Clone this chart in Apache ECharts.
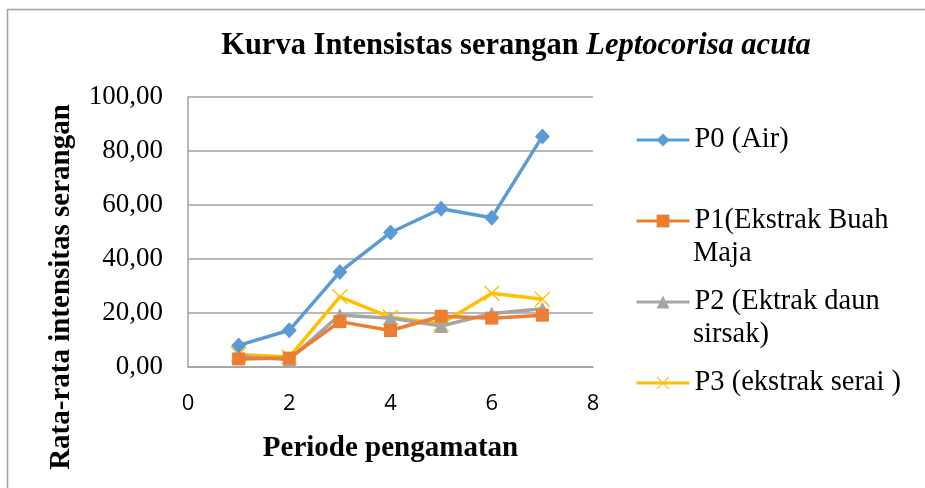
<!DOCTYPE html>
<html>
<head>
<meta charset="utf-8">
<script src="https://cdn.jsdelivr.net/npm/echarts@6/dist/echarts.min.js"></script>
<style>
  html, body { margin: 0; padding: 0; background: #fff; }
  #chart { width: 925px; height: 488px; }
</style>
</head>
<body>
<div id="chart"></div>
<script>
  // data
  var periods = [1, 2, 3, 4, 5, 6, 7];
  var seriesNames = ['P0 (Air)', 'P1(Ekstrak Buah Maja', 'P2 (Ektrak daun sirsak)', 'P3 (ekstrak serai )'];
  var legendLine1 = ['P0 (Air)', 'P1(Ekstrak Buah', 'P2 (Ektrak daun', 'P3 (ekstrak serai )'];
  var legendLine2 = ['', 'Maja', 'sirsak)', ''];
  var p0 = [8.0, 13.6, 35.2, 49.8, 58.6, 55.3, 85.4];
  var p1 = [3.0, 3.3, 16.8, 13.5, 18.8, 18.1, 19.2];
  var p2 = [3.9, 2.8, 19.3, 18.1, 15.2, 19.8, 21.6];
  var p3 = [4.6, 3.7, 26.0, 18.4, 16.0, 27.3, 25.1];
  var yTicks = [0, 20, 40, 60, 80, 100];

  var colors = ['#5B9BD5', '#ED7D31', '#A5A5A5', '#FFC000'];
  var symbols = ['diamond', 'rect', 'triangle',
    'path://M0,1.2L1.2,0L10,8.8L18.8,0L20,1.2L11.2,10L20,18.8L18.8,20L10,11.2L1.2,20L0,18.8L8.8,10Z'];
  var symbolSizes = [[15, 16], 13, 14, 16];
  var values = [p0, p1, p2, p3];

  var serif = '"Liberation Serif", "DejaVu Serif", serif';
  var chart = echarts.init(document.getElementById('chart'));

  var legendY = [140, 221, 302, 383];

  var series = values.map(function (vals, i) {
    return {
      name: seriesNames[i],
      type: 'line',
      data: periods.map(function (p, j) { return [p, vals[j]]; }),
      symbol: symbols[i],
      symbolSize: symbolSizes[i],
      showAllSymbol: true,
      color: colors[i],
      lineStyle: { width: 3.5, color: colors[i] },
      itemStyle: { color: colors[i] },
      z: 10 - i
    };
  });

  var legends = seriesNames.map(function (n, i) {
    return {
      data: [n],
      orient: 'vertical',
      left: 635,
      top: legendY[i] - 15,
      itemWidth: 53,
      itemHeight: 16,
      itemGap: 0,
      padding: 0,
      selectedMode: false,
      lineStyle: { width: 3 },
      formatter: function () { return legendLine1[i]; },
      textStyle: { fontFamily: serif, fontSize: 28.5, color: '#000', lineHeight: 30 }
    };
  });

  var graphics = [{
    type: 'rect',
    shape: { x: 7.5, y: 9.5, width: 2000, height: 2000 },
    style: { fill: 'none', stroke: '#A0A0A0', lineWidth: 1.5 },
    silent: true
  }, {
    type: 'text',
    x: 516,
    y: 46,
    style: {
      text: '{b|Kurva Intensistas serangan }{i|Leptocorisa acuta}',
      align: 'center',
      verticalAlign: 'middle',
      rich: {
        b: { fontFamily: serif, fontSize: 30.5, fontWeight: 'bold', fill: '#000' },
        i: { fontFamily: serif, fontSize: 30.5, fontWeight: 'bold', fontStyle: 'italic', fill: '#000' }
      }
    }
  }, {
    type: 'text',
    x: 62,
    y: 287,
    rotation: Math.PI / 2,
    style: {
      text: 'Rata-rata intensitas serangan',
      align: 'center',
      verticalAlign: 'middle',
      fontFamily: serif, fontSize: 29, fontWeight: 'bold', fill: '#000'
    }
  }];
  legendLine2.forEach(function (t, i) {
    if (!t) return;
    graphics.push({
      type: 'text',
      x: 693,
      y: legendY[i] + 33,
      style: { text: t, fontFamily: serif, fontSize: 28.5, fill: '#000', verticalAlign: 'middle' }
    });
  });

  chart.setOption({
    animation: false,
    backgroundColor: '#fff',
    legend: legends,
    graphic: graphics,
    grid: { left: 188, right: 332, top: 97, bottom: 121 },
    xAxis: {
      type: 'value',
      min: 0,
      max: 8,
      interval: 2,
      name: 'Periode pengamatan',
      nameLocation: 'middle',
      nameGap: 67,
      nameTextStyle: { fontFamily: serif, fontSize: 29, fontWeight: 'bold', color: '#000' },
      axisLine: { show: true, lineStyle: { color: '#A0A0A0', width: 1.5 } },
      axisTick: { show: false },
      splitLine: { show: false },
      axisLabel: { fontFamily: '"Open Sans", sans-serif', fontSize: 22, color: '#000', margin: 26 }
    },
    yAxis: {
      type: 'value',
      min: 0,
      max: 100,
      interval: 20,
      axisLine: { show: true, lineStyle: { color: '#A0A0A0', width: 1.5 } },
      axisTick: { show: false },
      splitLine: { show: true, lineStyle: { color: '#A0A0A0', width: 1.5 } },
      axisLabel: {
        fontFamily: serif, fontSize: 27, color: '#000', margin: 25,
        customValues: yTicks,
        formatter: function (v) { return v.toFixed(2).replace('.', ','); }
      }
    },
    series: series
  });
</script>
</body>
</html>
